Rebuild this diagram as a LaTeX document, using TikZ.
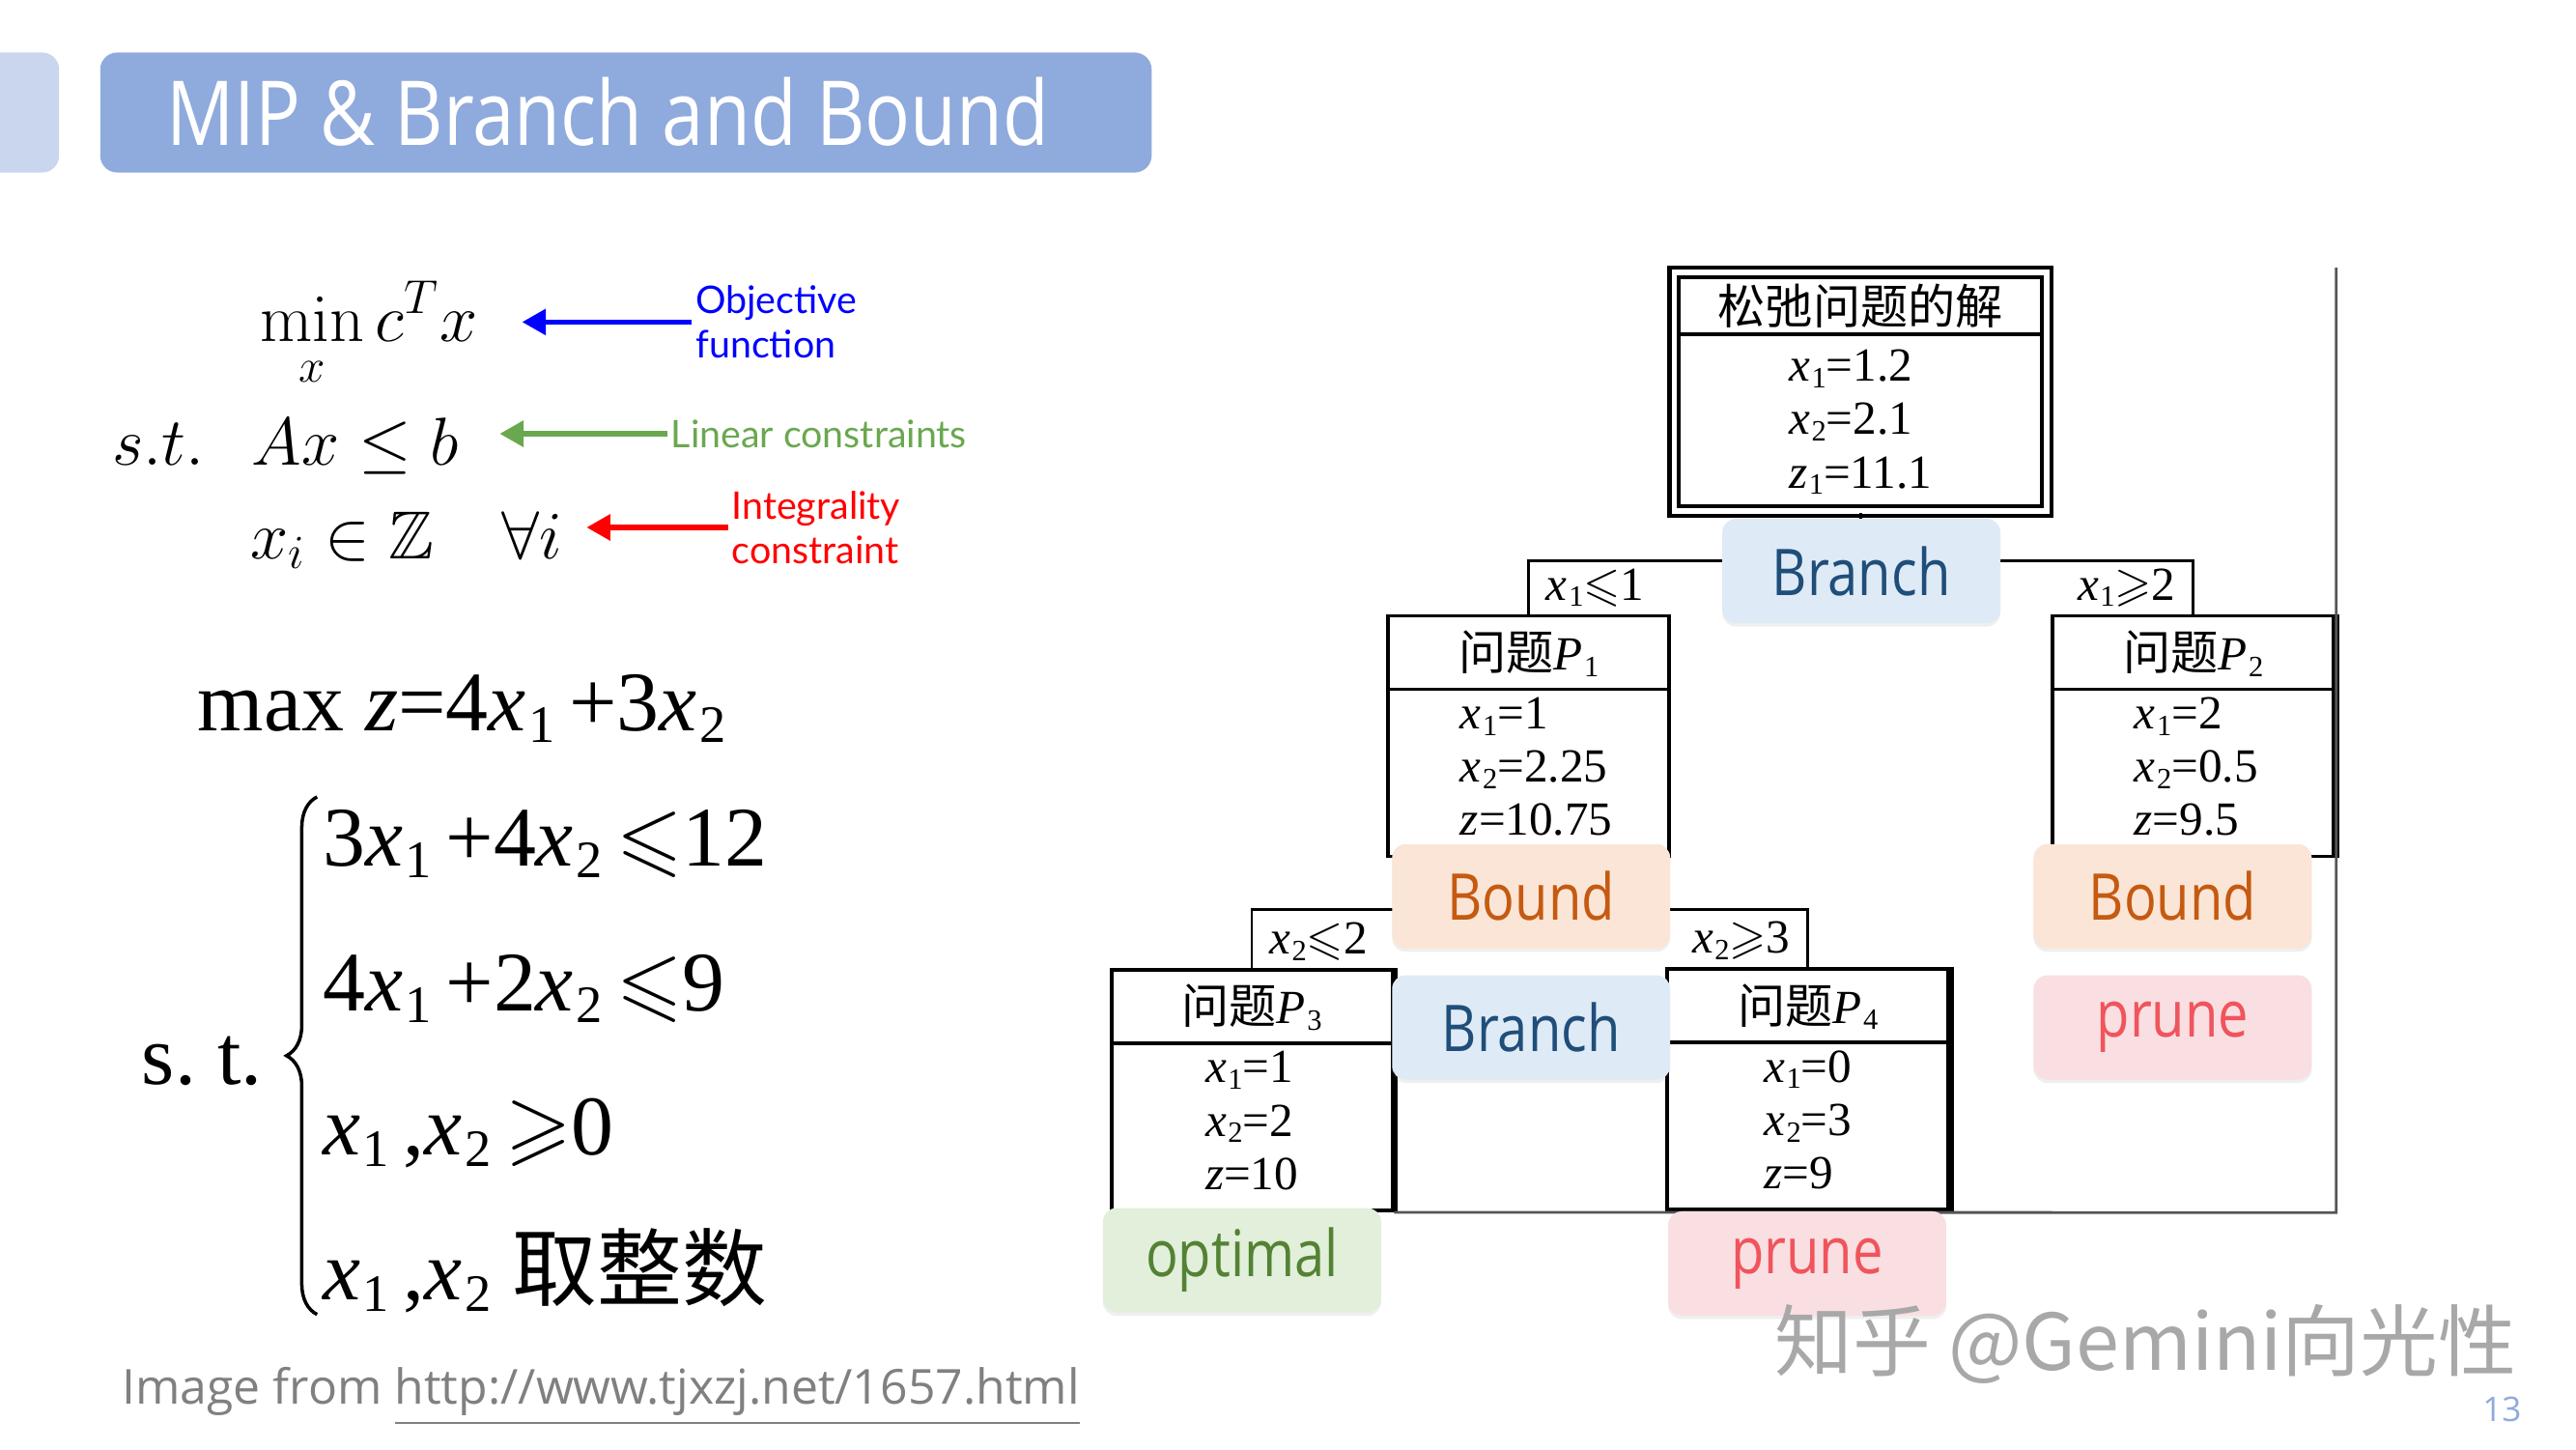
\documentclass[tikz,border=0pt]{standalone}
\usepackage{fix-cm}
\usepackage{amsmath}
\usepackage{amssymb}
\usepackage[no-math]{fontspec}
\setmainfont{Liberation Serif}
\newfontfamily\osans{Open Sans}
\newfontfamily\osnarrow[FakeStretch=0.84]{Open Sans}
\newfontfamily\lato{Lato}
\newfontfamily\cjk{Noto Sans CJK SC}
\usetikzlibrary{arrows.meta,positioning,decorations.pathreplacing,shadows}
\definecolor{titleblue}{HTML}{8FAADC}
\definecolor{sliverblue}{HTML}{C9D6EE}
\definecolor{branchfill}{HTML}{DEEAF6}
\definecolor{branchtext}{HTML}{1F4E79}
\definecolor{boundfill}{HTML}{FBE5D6}
\definecolor{boundtext}{HTML}{C55A11}
\definecolor{optfill}{HTML}{E2EFDA}
\definecolor{opttext}{HTML}{548235}
\definecolor{prunefill}{HTML}{F9DFE2}
\definecolor{prunetext}{HTML}{F0545C}
\definecolor{objblue}{HTML}{0000FF}
\definecolor{lingreen}{HTML}{6AA84F}
\definecolor{intred}{HTML}{FF0000}
\definecolor{srcgray}{HTML}{808080}
\definecolor{wmgray}{HTML}{A8A8A8}
\definecolor{framegray}{HTML}{555555}
\newcommand{\sbx}[1]{\kern0.03em\raisebox{-0.3ex}{\scalebox{0.62}{#1}}}
\newcommand{\xv}[1]{\textit{x}\sbx{#1}}

\begin{document}
\begin{tikzpicture}[x=0.017009cm, y=-0.017009cm,
  pbox/.style={draw, line width=1.1pt, minimum width=2.91cm, minimum height=2.49cm, inner sep=0pt},
  link/.style={line width=0.8pt},
  picframe/.style={draw=framegray, line width=0.8pt},
  hd/.style={font=\fontsize{14}{16}\selectfont, inner sep=0pt},
  vals/.style={align=left, font=\fontsize{14}{15.7}\selectfont, inner sep=0pt},
  cond/.style={font=\fontsize{14}{16}\selectfont, inner sep=1pt},
  tag/.style={rounded corners=4pt, minimum width=2.88cm, minimum height=1.08cm, font=\osnarrow\fontsize{19}{22}\selectfont, drop shadow={opacity=0.12, shadow xshift=0pt, shadow yshift=-1pt}},
  branchtag/.style={tag, fill=branchfill, text=branchtext},
  boundtag/.style={tag, fill=boundfill, text=boundtext},
  opttag/.style={tag, fill=optfill, text=opttext},
  prunetag/.style={tag, fill=prunefill, text=prunetext},
  note/.style={font=\lato\fontsize{11.2}{13}\selectfont, align=left, inner sep=1pt, anchor=west},
  hint/.style={line width=1.5pt, -{Triangle[length=7pt,width=7.5pt]}},
  eqcm/.style={font=\fontsize{20}{24}\selectfont, anchor=base west, inner sep=0pt},
  eqtimes/.style={font=\fontsize{25}{30}\selectfont, anchor=base west, inner sep=0pt}]
\useasboundingbox (0,0) rectangle (1568,882);
\fill[white] (0,0) rectangle (1568,882);
\fill[sliverblue, rounded corners=5pt] (-20,32) rectangle (36,105);
\fill[titleblue, rounded corners=5pt] (61,32) rectangle (701,105);
\node[anchor=west, text=white, font=\osnarrow\fontsize{26.4}{32}\selectfont, inner sep=0pt] (title) at (101,68) {MIP \& Branch and Bound};

\node[eqcm] (obj) at (158,208) {$\displaystyle\min_x c^T x$};
\node[eqcm] (st) at (68,283) {$s.t.$};
\node[eqcm] (lin) at (153,283) {$Ax \leq b$};
\node[eqcm] (intg) at (152,340) {$x_i \in \mathbb{Z} \quad \forall i$};
\node[note, text=objblue] (objlbl) at (421,196) {Objective\\function};
\node[note, text=lingreen] (linlbl) at (406,264) {Linear constraints};
\node[note, text=intred] (intlbl) at (443,321) {Integrality\\constraint};
\draw[hint, objblue, shorten >=13pt] (objlbl.west) -- (objlbl.west -| obj.east);
\draw[hint, lingreen, shorten >=12pt] (linlbl.west) -- (linlbl.west -| lin.east);
\draw[hint, intred, shorten >=7pt] (intlbl.west) -- (intlbl.west -| intg.east);

\node[eqtimes] (maxz) at (120,445) {max \textit{z}=4\xv{1}\,+3\xv{2}};
\node[eqtimes] (st2) at (86,660) {s.\ t.};
\node[eqtimes] (c1) at (196,527) {3\xv{1}\,+4\xv{2}\,$\leqslant$12};
\node[eqtimes] (c2) at (196,615) {4\xv{1}\,+2\xv{2}\,$\leqslant$9};
\node[eqtimes] (c3) at (196,703) {\xv{1}\,,\xv{2}\,$\geqslant$0};
\node[eqtimes] (c4) at (196,791) {\xv{1}\,,\xv{2}\ {\cjk 取整数}};
\draw[line width=1pt, decorate, decoration={brace, amplitude=9pt}] (193,800) -- (193,485);

\node[pbox, double=white, double distance=1.6pt, line width=1.2pt, minimum width=3.86cm, minimum height=2.47cm] (root) at (1132.5,238.5) {};
\draw[line width=1.1pt] ([shift={(0.05cm,-0.66cm)}]root.north west) -- ([shift={(-0.05cm,-0.66cm)}]root.north east);
\node[hd] (roothd) at ([yshift=-0.37cm]root.north) {\cjk 松弛问题的解};
\node[vals] (rootv) at ([yshift=-1.57cm]root.north) {\xv{1}=1.2\\\xv{2}=2.1\\\textit{z}\sbx{1}=11.1};

\foreach \nm/\cx/\cy/\k in {p1/930.5/448/1, p2/1335/448/2, p3/762/663.5/3, p4/1100.5/663/4} {
  \node[pbox] (\nm) at (\cx,\cy) {};
  \draw[line width=1.1pt] ([yshift=-0.78cm]\nm.north west) -- ([yshift=-0.78cm]\nm.north east);
  \node[hd] (\nm hd) at ([yshift=-0.41cm]\nm.north) {{\cjk 问题}\textit{P}\sbx{\k}};
}
\foreach \nm in {p2,p3,p4} \draw[line width=2.2pt] (\nm.north east) -- (\nm.south east);
\node[vals] (p1v) at ([shift={(0.08cm,-1.58cm)}]p1.north) {\xv{1}=1\\\xv{2}=2.25\\\textit{z}=10.75};
\node[vals] (p2v) at ([shift={(0.03cm,-1.58cm)}]p2.north) {\xv{1}=2\\\xv{2}=0.5\\\textit{z}=9.5};
\node[vals] (p3v) at ([yshift=-1.58cm]p3.north) {\xv{1}=1\\\xv{2}=2\\\textit{z}=10};
\node[vals] (p4v) at ([yshift=-1.58cm]p4.north) {\xv{1}=0\\\xv{2}=3\\\textit{z}=9};

\draw[link] (root.south) -- ++(0,29) -| (p1.north);
\draw[link] (root.south) ++(0,29) -| (p2.north);
\draw[link] (p1.south) -- ++(0,31) -| (p3.north);
\draw[link] (p1.south) ++(0,31) -| (p4.north);
\node[cond, above right=1pt and 4pt of p1.north] (b11) {\xv{1}$\leqslant$1};
\node[cond, above left=1pt and 4pt of p2.north] (b12) {\xv{1}$\geqslant$2};
\node[cond, above right=1pt and 4pt of p3.north] (b21) {\xv{2}$\leqslant$2};
\node[cond, above left=1pt and 4pt of p4.north] (b22) {\xv{2}$\geqslant$3};
\draw[picframe] (p3.south east) -- (1422,738) -- (1422,163);

\node[branchtag] (br1) at (1133,347.5) {Branch};
\node[boundtag] (bd1) at (932,545.5) {Bound};
\node[branchtag, below=7.5pt of bd1] (br2) {Branch};
\node[boundtag] (bd2) at (1322.5,545.5) {Bound};
\node[prunetag, below=7.5pt of bd2] (pr1) {prune};
\node[opttag] (opt) at (756,767) {optimal};
\node[prunetag] (pr2) at (1100,769) {prune};

\node[anchor=west, text=srcgray, font=\osans\fontsize{14.2}{17}\selectfont, inner sep=0pt] (src) at (74,850) {Image from \underline{http://www.tjxzj.net/1657.html}};
\node[text=wmgray, font=\cjk\fontsize{23}{27}\selectfont] (wm) at (1306,818) {知乎 @Gemini向光性};
\node[text=titleblue, font=\osans\fontsize{10}{12}\selectfont] (pg) at (1523,858) {13};
\end{tikzpicture}
\end{document}
